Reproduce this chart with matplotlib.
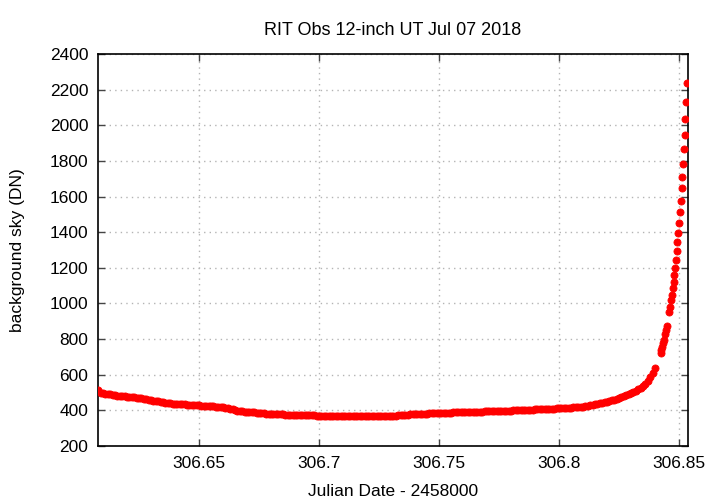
import numpy as np
import matplotlib.pyplot as plt

plt.rcParams['font.family'] = ['Liberation Sans', 'DejaVu Sans']

# -----------------------------
# Data
# -----------------------------
# dense part of the night: one frame every 0.001 d starting at 306.608
jd_start = 306.608
jd_step = 0.001
sky_dense = [
    512, 499, 496, 493, 491, 489, 488, 486, 483, 481,
    480, 478, 477, 475, 474, 473, 471, 469, 467, 465,
    462, 460, 457, 455, 452, 450, 448, 446, 443, 441,
    440, 438, 437, 436, 435, 434, 433, 432, 431, 430,
    429, 428, 428, 427, 426, 425, 424, 423, 422, 421,
    420, 418, 417, 415, 412, 409, 405, 402, 399, 397,
    395, 393, 392, 390, 389, 388, 387, 385, 384, 383,
    382, 381, 380, 379, 379, 378, 377, 377, 376, 376,
    375, 375, 375, 374, 374, 373, 373, 373, 372, 372,
    372, 371, 371, 371, 370, 370, 370, 370, 369, 369,
    369, 369, 369, 368, 368, 368, 368, 368, 368, 368,
    367, 367, 368, 368, 368, 368, 368, 368, 369, 369,
    369, 370, 370, 371, 371, 372, 373, 374, 375, 376,
    377, 378, 378, 379, 380, 381, 381, 382, 383, 383,
    384, 384, 385, 385, 386, 386, 387, 387, 388, 388,
    389, 389, 389, 390, 390, 391, 391, 392, 392, 393,
    393, 394, 394, 395, 395, 396, 396, 397, 397, 398,
    398, 399, 399, 400, 400, 401, 401, 402, 403, 403,
    404, 404, 405, 405, 406, 407, 407, 408, 409, 410,
    410, 411, 412, 413, 413, 414, 415, 416, 417, 418,
    417, 418, 420, 422, 425, 428, 431, 434, 437, 439,
    442, 445, 448, 452, 456, 460, 464, 468, 473, 478,
    484, 490, 497, 504, 511, 519, 527, 536, 550, 566,
    585, 608, 636,
]

# twilight tail
jd_tail = [306.8424, 306.8425, 306.8429, 306.8432, 306.8436, 306.8442,
           306.8446, 306.8451, 306.8460, 306.8464, 306.8467, 306.8471,
           306.8474, 306.8478, 306.8480, 306.8485, 306.8488, 306.8490,
           306.8493, 306.8497, 306.8501, 306.8504, 306.8507, 306.8511,
           306.8514, 306.8518, 306.8521, 306.8525, 306.8526, 306.8530,
           306.8535]
sky_tail = [720, 739, 757, 776, 793, 828, 851, 875, 954, 982, 1018, 1049,
            1085, 1122, 1160, 1201, 1245, 1296, 1345, 1397, 1453, 1511,
            1575, 1646, 1710, 1784, 1865, 1947, 2035, 2129, 2235]

jd_dense = jd_start + jd_step * np.arange(len(sky_dense))
jd = np.concatenate([jd_dense, jd_tail])
sky = np.concatenate([sky_dense, sky_tail])

xticks = [306.65, 306.7, 306.75, 306.8, 306.85]
xticklabels = ["306.65", "306.7", "306.75", "306.8", "306.85"]
yticks = list(range(200, 2401, 200))

# -----------------------------
# Plot
# -----------------------------
fig = plt.figure(figsize=(7.2, 5.04), dpi=100)
ax = fig.add_axes([0.1361, 0.1151, 0.8194, 0.7778])

ax.scatter(jd, sky, s=26, color='#ff0000', edgecolors='#ff0000',
           linewidths=0.6, zorder=3)

ax.set_xlim(306.6079, 306.85375)
ax.set_ylim(200, 2400)
ax.set_xticks(xticks)
ax.set_xticklabels(xticklabels)
ax.set_yticks(yticks)

ax.grid(True, color='#b4b4b4', linestyle=(0, (1, 3)), linewidth=1)
ax.tick_params(direction='in', length=5, width=1, top=True, right=True,
               labelsize=12.5, color='#444444', pad=7)
for sp in ax.spines.values():
    sp.set_linewidth(1.2)
    sp.set_color('black')

ax.text(0.5, 1.061, "RIT Obs 12-inch UT Jul 07 2018", fontsize=13,
        ha='center', va='center', transform=ax.transAxes)
ax.set_xlabel("Julian Date - 2458000", fontsize=12.5)
ax.set_ylabel("background sky (DN)", fontsize=12.5)
ax.xaxis.set_label_coords(0.5, -0.1173)
ax.yaxis.set_label_coords(-0.1356, 0.5)
ax.xaxis.label.set_verticalalignment('center')
ax.yaxis.label.set_verticalalignment('center')

fig.savefig("out.png", dpi=100)
